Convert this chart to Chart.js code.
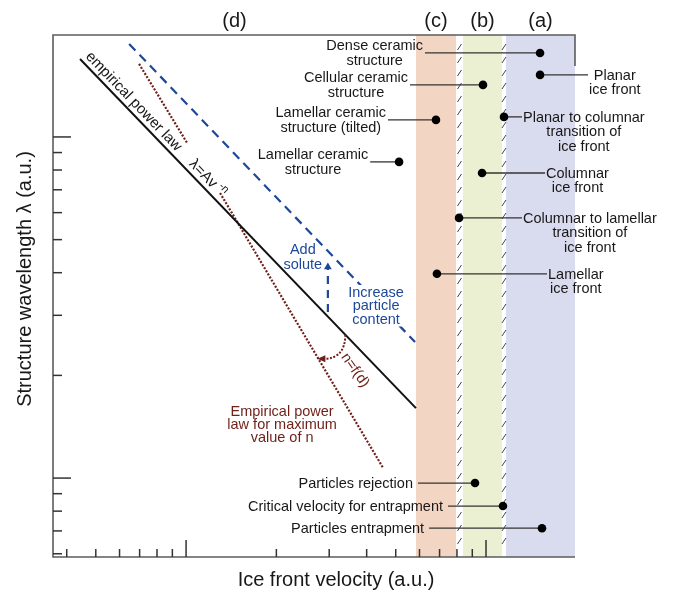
<!DOCTYPE html>
<html>
<head>
<meta charset="utf-8">
<script src="https://cdn.jsdelivr.net/npm/chart.js@4.4.1/dist/chart.umd.min.js"></script>
<style>
  html, body { margin: 0; padding: 0; background: #fff; }
  canvas { display: block; }
</style>
</head>
<body>
<canvas id="diagram" width="674" height="593"></canvas>
<script>
// both axes are log scales in arbitrary units
const velocityRange = [3.6, 198];
const wavelengthRange = [0.587, 19.9];
const velocityMajorTicks = [10, 100];
const velocityMinorTicks = [4, 5, 6, 7, 8, 9, 20, 30, 40, 50, 60, 70, 80, 90];
const wavelengthMajorTicks = [1, 10];
const wavelengthMinorTicks = [0.6, 0.7, 0.8, 0.9, 2, 3, 4, 5, 6, 7, 8, 9];

// regions along the velocity axis
const regionNames = ['(d)', '(c)', '(b)', '(a)'];
const regionStart = [3.6, 58.4, 83.8, 116.6];
const regionEnd = [58.4, 79.4, 113, 198];

// lines (velocity, wavelength)
const powerLawV = [4.43, 58.4];
const powerLawL = [16.93, 1.604];
const particleContentV = [6.46, 58.0];
const particleContentL = [18.74, 2.505];
const maxNTopV = [6.97, 10.08];
const maxNTopL = [16.37, 9.60];
const maxNLineV = [12.98, 45.4];
const maxNLineL = [6.85, 1.07];
const addSoluteV = [29.7, 29.7];
const addSoluteL = [3.07, 4.16];

// marked points: label, dot position, other end of leader line, side of text
const markerLabels = [
  ['Dense ceramic', 'structure'],
  ['Cellular ceramic', 'structure'],
  ['Lamellar ceramic', 'structure (tilted)'],
  ['Lamellar ceramic', 'structure'],
  ['Particles rejection'],
  ['Critical velocity for entrapment'],
  ['Particles entrapment'],
  ['Planar', 'ice front'],
  ['Planar to columnar', 'transition of', 'ice front'],
  ['Columnar', 'ice front'],
  ['Columnar to lamellar', 'transition of', 'ice front'],
  ['Lamellar', 'ice front']
];
const markerV = [151.4, 97.7, 68.1, 51.3, 91.9, 113.9, 153.7, 151.4, 114.8, 97.0, 81.3, 68.6];
const markerL = [17.63, 14.21, 11.22, 8.45, 0.967, 0.828, 0.713, 15.20, 11.45, 7.84, 5.79, 3.97];
const leaderEndV = [62.6, 55.8, 47.1, 41.1, 59.3, 74.7, 64.6, 218.8, 131.8, 157.3, 131.8, 159.7];
const markerSide = ['left', 'left', 'left', 'left', 'left', 'left', 'left', 'right', 'right', 'right', 'right', 'right'];

const FONT = "'Liberation Sans', Arial, sans-serif";
const INK = '#1a1718';
const BLUE = '#1d4798';
const BROWN = '#6e1f17';
const regionColors = ['#ffffff', '#f3d5c3', '#ebf0d2', '#d9dcee'];

function pts(vs, ls) {
  return vs.map((v, i) => ({ x: v, y: ls[i] }));
}

const datasets = [
  { data: pts(powerLawV, powerLawL), borderColor: '#111', borderWidth: 2, pointRadius: 0 },
  { data: pts(particleContentV, particleContentL), borderColor: BLUE, borderWidth: 2.2, borderDash: [9, 6], pointRadius: 0 },
  { data: pts(maxNTopV, maxNTopL), borderColor: BROWN, borderWidth: 2.2, borderDash: [2, 1.6], pointRadius: 0 },
  { data: pts(maxNLineV, maxNLineL), borderColor: BROWN, borderWidth: 2.2, borderDash: [2, 1.6], pointRadius: 0 },
  {
    data: pts(addSoluteV, addSoluteL), borderColor: BLUE, borderWidth: 2.2, borderDash: [8, 6],
    pointStyle: 'triangle', pointRadius: [0, 4.5], pointBackgroundColor: BLUE, pointBorderColor: BLUE, pointBorderWidth: 0
  }
];
markerLabels.forEach((lab, i) => {
  datasets.push({
    data: [{ x: leaderEndV[i], y: markerL[i] }, { x: markerV[i], y: markerL[i] }],
    borderColor: '#333', borderWidth: 1.3,
    pointRadius: [0, 4.3], pointBackgroundColor: '#000', pointBorderColor: '#000', pointBorderWidth: 0
  });
});
datasets.forEach(d => { d.showLine = true; d.clip = false; d.fill = false; });

function drawBlock(ctx, lines, cx, cy, lineH, knockout) {
  if (knockout) {
    const w = Math.max(...lines.map(t => ctx.measureText(t).width));
    const h = lines.length * lineH;
    const fill = ctx.fillStyle;
    ctx.fillStyle = '#fff';
    ctx.fillRect(cx - w / 2 - 2, cy - h / 2 - 1, w + 4, h + 1);
    ctx.fillStyle = fill;
  }
  lines.forEach((t, k) => ctx.fillText(t, cx, cy + (k - (lines.length - 1) / 2) * lineH));
}

const diagramPlugin = {
  id: 'diagram',
  beforeDatasetsDraw(chart) {
    const { ctx, chartArea: a, scales: { x } } = chart;
    ctx.save();
    for (let i = 1; i < regionNames.length; i++) {
      const x0 = x.getPixelForValue(regionStart[i]);
      const x1 = x.getPixelForValue(regionEnd[i]);
      ctx.fillStyle = regionColors[i];
      ctx.fillRect(x0, a.top, x1 - x0, a.bottom - a.top);
    }
    // hatched gaps between regions
    ctx.strokeStyle = '#444';
    ctx.lineWidth = 1;
    for (let i = 2; i < regionNames.length; i++) {
      const gx = (x.getPixelForValue(regionEnd[i - 1]) + x.getPixelForValue(regionStart[i])) / 2;
      for (let py = a.top + 12; py < a.bottom - 3; py += 13) {
        ctx.beginPath();
        ctx.moveTo(gx - 2, py + 3);
        ctx.lineTo(gx + 2, py - 3);
        ctx.stroke();
      }
    }
    ctx.restore();
  },
  afterDatasetsDraw(chart) {
    const { ctx, chartArea: a, scales: { x, y } } = chart;
    ctx.save();

    // frame
    ctx.strokeStyle = '#5c5c5c';
    ctx.lineWidth = 1.6;
    ctx.beginPath();
    ctx.moveTo(a.right, a.top + 31);
    ctx.lineTo(a.right, a.top);
    ctx.lineTo(a.left, a.top);
    ctx.lineTo(a.left, a.bottom);
    ctx.lineTo(a.right, a.bottom);
    ctx.stroke();

    // inward tick marks
    ctx.strokeStyle = '#333';
    ctx.lineWidth = 1.5;
    const tickX = (v, len) => {
      const px = x.getPixelForValue(v);
      ctx.beginPath(); ctx.moveTo(px, a.bottom); ctx.lineTo(px, a.bottom - len); ctx.stroke();
    };
    const tickY = (v, len) => {
      const py = y.getPixelForValue(v);
      ctx.beginPath(); ctx.moveTo(a.left, py); ctx.lineTo(a.left + len, py); ctx.stroke();
    };
    velocityMinorTicks.forEach(v => tickX(v, 8));
    velocityMajorTicks.forEach(v => tickX(v, 17));
    wavelengthMinorTicks.forEach(v => tickY(v, 9));
    wavelengthMajorTicks.forEach(v => tickY(v, 18));

    // region labels
    ctx.fillStyle = INK;
    ctx.font = '20px ' + FONT;
    ctx.textAlign = 'center';
    ctx.textBaseline = 'middle';
    regionNames.forEach((n, i) => {
      const cx = (x.getPixelForValue(regionStart[i]) + x.getPixelForValue(regionEnd[i])) / 2;
      ctx.fillText(n, cx, a.top - 14);
    });

    // axis titles
    ctx.fillText('Ice front velocity (a.u.)', 336, a.bottom + 23);
    ctx.save();
    ctx.translate(25, 279);
    ctx.rotate(-Math.PI / 2);
    ctx.fillText('Structure wavelength λ (a.u.)', 0, 0);
    ctx.restore();

    // marker labels
    ctx.font = '14.5px ' + FONT;
    markerLabels.forEach((lines, i) => {
      const ex = x.getPixelForValue(leaderEndV[i]);
      const ey = y.getPixelForValue(markerL[i]);
      const w = Math.max(...lines.map(t => ctx.measureText(t).width));
      if (markerSide[i] === 'left') {
        const gap = lines.length > 1 ? 2 : 5;
        drawBlock(ctx, lines, ex - gap - w / 2, ey + 1, 15);
      } else {
        lines.forEach((t, k) => ctx.fillText(t, ex + 1 + w / 2, ey + 1 + k * 14.5));
      }
    });

    // text along the empirical power law
    const p0 = { x: x.getPixelForValue(powerLawV[0]), y: y.getPixelForValue(powerLawL[0]) };
    const p1 = { x: x.getPixelForValue(powerLawV[1]), y: y.getPixelForValue(powerLawL[1]) };
    const len = Math.hypot(p1.x - p0.x, p1.y - p0.y);
    const u = { x: (p1.x - p0.x) / len, y: (p1.y - p0.y) / len };
    const nrm = { x: u.y, y: -u.x };
    const ang = Math.atan2(u.y, u.x);
    const along = (t, off) => ({ x: p0.x + u.x * len * t + nrm.x * off, y: p0.y + u.y * len * t + nrm.y * off });

    ctx.font = '15px ' + FONT;
    let c = along(0.14, 9);
    ctx.save();
    ctx.translate(c.x, c.y);
    ctx.rotate(ang);
    ctx.fillText('empirical power law', 0, 0);
    ctx.restore();

    c = along(0.36, 9);
    ctx.save();
    ctx.translate(c.x, c.y);
    ctx.rotate(ang);
    const mainW = ctx.measureText('λ=Av').width;
    ctx.font = '11px ' + FONT;
    const supW = ctx.measureText('-n').width;
    const total = mainW + 3 + supW;
    ctx.textAlign = 'left';
    ctx.font = '15px ' + FONT;
    ctx.fillText('λ=Av', -total / 2, 0);
    ctx.font = '11px ' + FONT;
    ctx.fillText('-n', -total / 2 + mainW + 3, -5);
    ctx.restore();
    ctx.textAlign = 'center';

    // curved arrow between the two power laws
    const q0 = { x: x.getPixelForValue(maxNLineV[0]), y: y.getPixelForValue(maxNLineL[0]) };
    const q1 = { x: x.getPixelForValue(maxNLineV[1]), y: y.getPixelForValue(maxNLineL[1]) };
    const d1 = { x: p1.x - p0.x, y: p1.y - p0.y };
    const d2 = { x: q1.x - q0.x, y: q1.y - q0.y };
    const den = d1.x * d2.y - d1.y * d2.x;
    const s = ((q0.x - p0.x) * d2.y - (q0.y - p0.y) * d2.x) / den;
    const cx0 = p0.x + d1.x * s, cy0 = p0.y + d1.y * s;
    const r = 155;
    const l2 = Math.hypot(d2.x, d2.y);
    const st = { x: cx0 + u.x * r, y: cy0 + u.y * r };
    const en = { x: cx0 + d2.x / l2 * (r + 3), y: cy0 + d2.y / l2 * (r + 3) };
    const ctl = { x: st.x, y: en.y };
    ctx.strokeStyle = BROWN;
    ctx.lineWidth = 2;
    ctx.setLineDash([2, 1.6]);
    ctx.beginPath();
    ctx.moveTo(st.x, st.y);
    ctx.quadraticCurveTo(ctl.x, ctl.y, en.x + 5, en.y);
    ctx.stroke();
    ctx.setLineDash([]);
    ctx.fillStyle = BROWN;
    ctx.beginPath();
    ctx.moveTo(en.x - 1, en.y);
    ctx.lineTo(en.x + 7, en.y - 3.5);
    ctx.lineTo(en.x + 7, en.y + 3.5);
    ctx.closePath();
    ctx.fill();

    // annotations
    ctx.font = '14.5px ' + FONT;
    ctx.fillStyle = BROWN;
    drawBlock(ctx, ['Empirical power', 'law for maximum', 'value of n'],
      x.getPixelForValue(20.9), y.getPixelForValue(1.43), 13);
    ctx.save();
    ctx.translate(x.getPixelForValue(36.6), y.getPixelForValue(2.07));
    ctx.rotate(55 * Math.PI / 180);
    ctx.fillText('n=f(d)', 0, 0);
    ctx.restore();

    ctx.fillStyle = BLUE;
    drawBlock(ctx, ['Add', 'solute'], x.getPixelForValue(24.5), y.getPixelForValue(4.43), 15);
    drawBlock(ctx, ['Increase', 'particle', 'content'], x.getPixelForValue(43.0), y.getPixelForValue(3.19), 13.5, true);

    ctx.restore();
  }
};

new Chart(document.getElementById('diagram').getContext('2d'), {
  type: 'scatter',
  data: { datasets: datasets },
  options: {
    responsive: false,
    animation: false,
    devicePixelRatio: 1,
    layout: { padding: { left: 53, top: 35, right: 99, bottom: 36 } },
    scales: {
      x: { type: 'logarithmic', min: velocityRange[0], max: velocityRange[1], display: false },
      y: { type: 'logarithmic', min: wavelengthRange[0], max: wavelengthRange[1], display: false }
    },
    plugins: { legend: { display: false }, tooltip: { enabled: false } }
  },
  plugins: [diagramPlugin]
});
</script>
</body>
</html>
